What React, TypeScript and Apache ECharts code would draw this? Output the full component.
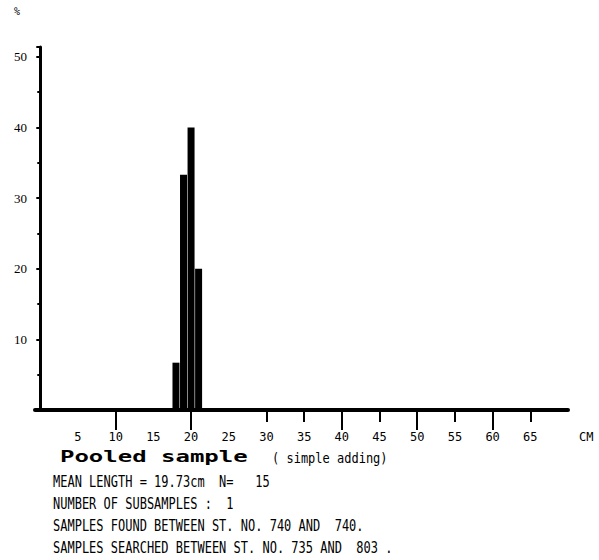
import React, { useEffect, useRef } from "react";
import * as echarts from "echarts";

// Length classes (cm) and percentage of fish
const lengthCm = [18, 19, 20, 21];
const percent = [6.7, 33.3, 40, 20];

const xLabelValues = [5, 10, 15, 20, 25, 30, 35, 40, 45, 50, 55, 60, 65];
const xLongTicks = [10, 20, 40, 50, 60];
const xShortTicks = [30, 35, 45, 55, 65];

const titleMain = "Pooled sample";
const titleSub = "( simple adding)";
const infoLines = [
  "MEAN LENGTH = 19.73cm  N=   15",
  "NUMBER OF SUBSAMPLES :  1",
  "SAMPLES FOUND BETWEEN ST. NO. 740 AND  740.",
  "SAMPLES SEARCHED BETWEEN ST. NO. 735 AND  803 .",
];

const MONO = "'DejaVu Sans Mono', 'Liberation Mono', monospace";

export default function App() {
  const ref = useRef<HTMLDivElement>(null);

  useEffect(() => {
    if (!ref.current) return;
    const chart = echarts.init(ref.current, null, { renderer: "svg" });

    const infoTexts = infoLines.map((t, i) => ({
      type: "text",
      x: 53,
      y: 474 + i * 22,
      scaleY: 1.25,
      style: { text: t, font: `12px ${MONO}`, fill: "#000" },
    }));

    chart.setOption({
      animation: false,
      backgroundColor: "#fff",
      grid: { left: 35, right: 31, top: 47, bottom: 150 },
      xAxis: [
        {
          type: "value",
          min: -0.7,
          max: 70,
          position: "bottom",
          splitLine: { show: false },
          axisLine: { show: true, lineStyle: { color: "#000", width: 4 } },
          axisTick: {
            show: true,
            customValues: xLongTicks,
            length: 20,
            lineStyle: { color: "#000", width: 2 },
          },
          axisLabel: {
            customValues: xLabelValues,
            margin: 21,
            color: "#000",
            fontFamily: MONO,
            fontSize: 12,
          },
        },
        {
          type: "value",
          min: -0.7,
          max: 70,
          position: "bottom",
          splitLine: { show: false },
          axisLine: { show: false },
          axisLabel: { show: false },
          axisTick: {
            show: true,
            customValues: xShortTicks,
            length: 12,
            lineStyle: { color: "#000", width: 2 },
          },
        },
      ],
      yAxis: {
        type: "value",
        min: 0,
        max: 51.4,
        interval: 10,
        splitLine: { show: false },
        axisLine: { show: true, lineStyle: { color: "#000", width: 3 } },
        axisTick: { show: true, length: 4, lineStyle: { color: "#000", width: 2 } },
        minorTick: { show: true, splitNumber: 2, length: 3, lineStyle: { color: "#000", width: 2 } },
        axisLabel: {
          color: "#000",
          fontFamily: "'Liberation Serif', serif",
          fontSize: 13,
          margin: 8,
          formatter: (v: number) => (v === 0 ? "" : String(v)),
        },
      },
      series: [
        {
          type: "bar",
          xAxisIndex: 0,
          barWidth: 7,
          itemStyle: { color: "#000" },
          data: lengthCm.map((x, i) => [x, percent[i]]),
        },
      ],
      graphic: [
        {
          type: "text",
          x: 14,
          y: 6,
          style: { text: "%", font: `10px ${MONO}`, fill: "#000" },
        },
        {
          type: "text",
          x: 579,
          y: 431,
          style: { text: "CM", font: `12px ${MONO}`, fill: "#000" },
        },
        {
          type: "text",
          x: 60,
          y: 449,
          scaleX: 1.5,
          style: { text: titleMain, font: `bold 16px ${MONO}`, fill: "#000" },
        },
        {
          type: "text",
          x: 272,
          y: 451,
          scaleY: 1.2,
          style: { text: titleSub, font: `12px ${MONO}`, fill: "#000" },
        },
        ...infoTexts,
      ],
    });

    return () => chart.dispose();
  }, []);

  return (
    <div
      ref={ref}
      style={{ position: "fixed", left: 0, top: 0, width: 599, height: 560, background: "#fff" }}
    />
  );
}
